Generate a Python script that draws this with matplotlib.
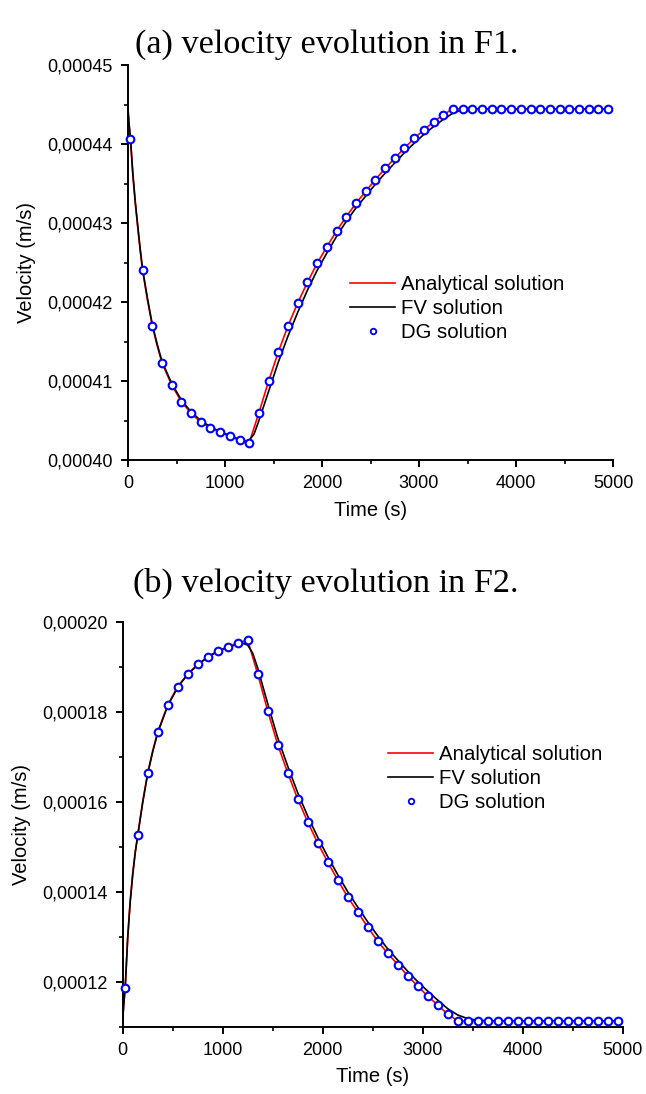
import matplotlib
matplotlib.use("Agg")
import matplotlib.pyplot as plt
from matplotlib.ticker import MultipleLocator, FuncFormatter

# ---------------- data: (a) F1 ----------------
t_dg = [25, 150, 250, 350, 450, 550, 650, 750, 850, 950, 1050, 1150, 1250,
        1350, 1450, 1550, 1650, 1750, 1850, 1950, 2050, 2150, 2250, 2350,
        2450, 2550, 2650, 2750, 2850, 2950, 3050, 3150, 3250, 3350, 3450,
        3550, 3650, 3750, 3850, 3950, 4050, 4150, 4250, 4350, 4450, 4550,
        4650, 4750, 4850, 4950]

f1_dg = [4.406e-4, 4.240e-4, 4.170e-4, 4.123e-4, 4.095e-4, 4.074e-4, 4.059e-4,
         4.048e-4, 4.041e-4, 4.035e-4, 4.030e-4, 4.025e-4, 4.022e-4,
         4.060e-4, 4.100e-4, 4.137e-4, 4.170e-4, 4.199e-4, 4.225e-4, 4.249e-4,
         4.270e-4, 4.290e-4, 4.308e-4, 4.325e-4, 4.340e-4, 4.355e-4, 4.369e-4,
         4.382e-4, 4.395e-4, 4.407e-4, 4.418e-4, 4.428e-4, 4.437e-4, 4.4445e-4,
         4.4445e-4, 4.4445e-4, 4.4445e-4, 4.4445e-4, 4.4445e-4, 4.4445e-4,
         4.4445e-4, 4.4445e-4, 4.4445e-4, 4.4445e-4, 4.4445e-4, 4.4445e-4,
         4.4445e-4, 4.4445e-4, 4.4445e-4, 4.4445e-4]

t_f1_an = [0, 10, 25, 50, 75, 100, 125, 150, 200, 250, 300, 350, 450, 550,
           650, 750, 850, 950, 1050, 1150, 1250, 1350, 1450, 1550, 1650, 1750,
           1850, 1950, 2050, 2150, 2250, 2350, 2450, 2550, 2650, 2750, 2850,
           2950, 3050, 3150, 3250, 3350, 5000]
f1_an = [4.444e-4, 4.425e-4, 4.406e-4, 4.360e-4, 4.325e-4, 4.295e-4, 4.266e-4,
         4.240e-4, 4.203e-4, 4.170e-4, 4.145e-4, 4.123e-4, 4.095e-4, 4.074e-4,
         4.059e-4, 4.048e-4, 4.041e-4, 4.035e-4, 4.030e-4, 4.025e-4, 4.022e-4,
         4.060e-4, 4.100e-4, 4.137e-4, 4.170e-4, 4.199e-4, 4.225e-4, 4.249e-4,
         4.270e-4, 4.290e-4, 4.308e-4, 4.325e-4, 4.340e-4, 4.355e-4, 4.369e-4,
         4.382e-4, 4.395e-4, 4.407e-4, 4.418e-4, 4.428e-4, 4.437e-4, 4.4445e-4,
         4.4445e-4]

t_f1_fv = [0, 10, 25, 50, 75, 100, 125, 150, 200, 250, 300, 350, 450, 550,
           650, 750, 850, 950, 1050, 1150, 1200, 1250, 1300, 1350, 1450, 1550,
           1650, 1750, 1850, 1950, 2050, 2150, 2250, 2350, 2450, 2550, 2650,
           2750, 2850, 2950, 3050, 3150, 3250, 3350, 3450, 3550, 5000]
f1_fv = [4.444e-4, 4.427e-4, 4.408e-4, 4.363e-4, 4.327e-4, 4.297e-4, 4.268e-4,
         4.242e-4, 4.205e-4, 4.172e-4, 4.147e-4, 4.125e-4, 4.097e-4, 4.076e-4,
         4.061e-4, 4.050e-4, 4.042e-4, 4.036e-4, 4.031e-4, 4.026e-4, 4.024e-4,
         4.025e-4, 4.033e-4, 4.050e-4, 4.087e-4, 4.124e-4, 4.157e-4, 4.187e-4,
         4.215e-4, 4.240e-4, 4.262e-4, 4.283e-4, 4.302e-4, 4.319e-4, 4.334e-4,
         4.349e-4, 4.363e-4, 4.376e-4, 4.389e-4, 4.401e-4, 4.412e-4, 4.422e-4,
         4.431e-4, 4.439e-4, 4.4435e-4, 4.4445e-4, 4.4445e-4]

# ---------------- data: (b) F2 ----------------
f2_dg = [1.187e-4, 1.526e-4, 1.664e-4, 1.755e-4, 1.815e-4, 1.856e-4, 1.884e-4,
         1.905e-4, 1.922e-4, 1.935e-4, 1.944e-4, 1.953e-4, 1.959e-4,
         1.884e-4, 1.802e-4, 1.727e-4, 1.664e-4, 1.606e-4, 1.555e-4, 1.508e-4,
         1.466e-4, 1.426e-4, 1.388e-4, 1.355e-4, 1.321e-4, 1.290e-4, 1.263e-4,
         1.238e-4, 1.213e-4, 1.190e-4, 1.168e-4, 1.148e-4, 1.128e-4, 1.113e-4,
         1.113e-4, 1.113e-4, 1.113e-4, 1.113e-4, 1.113e-4, 1.113e-4, 1.113e-4,
         1.113e-4, 1.113e-4, 1.113e-4, 1.113e-4, 1.113e-4, 1.113e-4, 1.113e-4,
         1.113e-4, 1.113e-4]

t_f2_an = [0, 10, 25, 50, 75, 100, 125, 150, 200, 250, 300, 350, 450, 550,
           650, 750, 850, 950, 1050, 1150, 1250, 1350, 1450, 1550, 1650, 1750,
           1850, 1950, 2050, 2150, 2250, 2350, 2450, 2550, 2650, 2750, 2850,
           2950, 3050, 3150, 3250, 3350, 5000]
f2_an = [1.113e-4, 1.150e-4, 1.187e-4, 1.300e-4, 1.380e-4, 1.440e-4, 1.488e-4,
         1.526e-4, 1.600e-4, 1.664e-4, 1.713e-4, 1.755e-4, 1.815e-4, 1.856e-4,
         1.884e-4, 1.905e-4, 1.922e-4, 1.935e-4, 1.944e-4, 1.953e-4, 1.959e-4,
         1.884e-4, 1.802e-4, 1.727e-4, 1.664e-4, 1.606e-4, 1.555e-4, 1.508e-4,
         1.466e-4, 1.426e-4, 1.388e-4, 1.355e-4, 1.321e-4, 1.290e-4, 1.263e-4,
         1.238e-4, 1.213e-4, 1.190e-4, 1.168e-4, 1.148e-4, 1.128e-4, 1.113e-4,
         1.113e-4]

t_f2_fv = [0, 10, 25, 50, 75, 100, 125, 150, 200, 250, 300, 350, 450, 550,
           650, 750, 850, 950, 1050, 1150, 1200, 1250, 1300, 1350, 1450, 1550,
           1650, 1750, 1850, 1950, 2050, 2150, 2250, 2350, 2450, 2550, 2650,
           2750, 2850, 2950, 3050, 3150, 3250, 3350, 3450, 3550, 3650, 5000]
f2_fv = [1.113e-4, 1.148e-4, 1.185e-4, 1.297e-4, 1.377e-4, 1.437e-4, 1.486e-4,
         1.524e-4, 1.598e-4, 1.662e-4, 1.711e-4, 1.753e-4, 1.813e-4, 1.854e-4,
         1.883e-4, 1.904e-4, 1.921e-4, 1.934e-4, 1.943e-4, 1.950e-4, 1.952e-4,
         1.948e-4, 1.930e-4, 1.897e-4, 1.818e-4, 1.742e-4, 1.679e-4, 1.620e-4,
         1.568e-4, 1.521e-4, 1.478e-4, 1.438e-4, 1.400e-4, 1.366e-4, 1.333e-4,
         1.302e-4, 1.273e-4, 1.248e-4, 1.223e-4, 1.200e-4, 1.179e-4, 1.159e-4,
         1.140e-4, 1.126e-4, 1.118e-4, 1.114e-4, 1.113e-4, 1.113e-4]

labels = ["Analytical solution", "FV solution", "DG solution"]
titles = ["(a) velocity evolution in F1.", "(b) velocity evolution in F2."]
x_label = "Time (s)"
y_label = "Velocity (m/s)"

# ---------------- figure ----------------
W, H = 646, 1094
fig = plt.figure(figsize=(W / 100, H / 100), dpi=100)

def px_axes(left, right, top, bottom):
    return fig.add_axes([left / W, 1 - bottom / H, (right - left) / W, (bottom - top) / H])

ax1 = px_axes(128, 613, 65, 460)
ax2 = px_axes(122.7, 622.7, 621.7, 1026.7)

sans = "Liberation Sans"
serif = "Liberation Serif"

yfmt = FuncFormatter(lambda v, p: f"{v:.5f}".replace(".", ","))
xfmt = FuncFormatter(lambda v, p: f"{v:.0f}")

def draw(ax, t_an, v_an, t_fv, v_fv, v_dg, ylim, ymaj, ymin, leg_anchor):
    l1, = ax.plot(t_an, v_an, color="#ff0000", lw=1.2, zorder=2)
    l2, = ax.plot(t_fv, v_fv, color="#000000", lw=1.2, zorder=3)
    l3, = ax.plot(t_dg, v_dg, ls="none", marker="o", ms=5.5, mfc="white",
                  mec="#0000ff", mew=1.5, zorder=4, clip_on=False)
    ax.set_xlim(0, 5000)
    ax.set_ylim(*ylim)
    ax.xaxis.set_major_locator(MultipleLocator(1000))
    ax.xaxis.set_minor_locator(MultipleLocator(500))
    ax.yaxis.set_major_locator(MultipleLocator(ymaj))
    ax.yaxis.set_minor_locator(MultipleLocator(ymin))
    ax.xaxis.set_major_formatter(xfmt)
    ax.yaxis.set_major_formatter(yfmt)
    for s in ["top", "right"]:
        ax.spines[s].set_visible(False)
    for s in ["left", "bottom"]:
        ax.spines[s].set_linewidth(1.4)
    ax.tick_params(which="major", direction="out", length=5, width=1.4,
                   labelsize=13, pad=6)
    ax.tick_params(which="minor", direction="out", length=3, width=1.2)
    for lab in ax.get_xticklabels() + ax.get_yticklabels():
        lab.set_fontfamily(sans)
    ax.set_xlabel(x_label, fontsize=14.5, fontfamily=sans, labelpad=6)
    ax.set_ylabel(y_label, fontsize=14.5, fontfamily=sans, labelpad=8)
    leg = ax.legend([l1, l2, l3], labels, loc="upper left",
                    bbox_to_anchor=leg_anchor, frameon=False,
                    prop={"family": sans, "size": 14.7}, handlelength=2.2,
                    handletextpad=0.3, labelspacing=0.25, borderaxespad=0,
                    borderpad=0, numpoints=1)
    leg.legend_handles[2].set_markersize(4)
    leg.legend_handles[2].set_markeredgewidth(1.3)

draw(ax1, t_f1_an, f1_an, t_f1_fv, f1_fv, f1_dg, (4.0e-4, 4.5e-4), 1e-5, 5e-6,
     (0.458, 0.468))
draw(ax2, t_f2_an, f2_an, t_f2_fv, f2_fv, f2_dg, (1.1e-4, 2.0e-4), 2e-5, 1e-5,
     (0.531, 0.695))

fig.text(0.505, 1 - 45 / H, titles[0], ha="center", va="center",
         fontsize=24.7, fontfamily=serif)
fig.text(0.505, 1 - 583 / H, titles[1], ha="center", va="center",
         fontsize=24.7, fontfamily=serif)

fig.savefig("out.png", dpi=100)
